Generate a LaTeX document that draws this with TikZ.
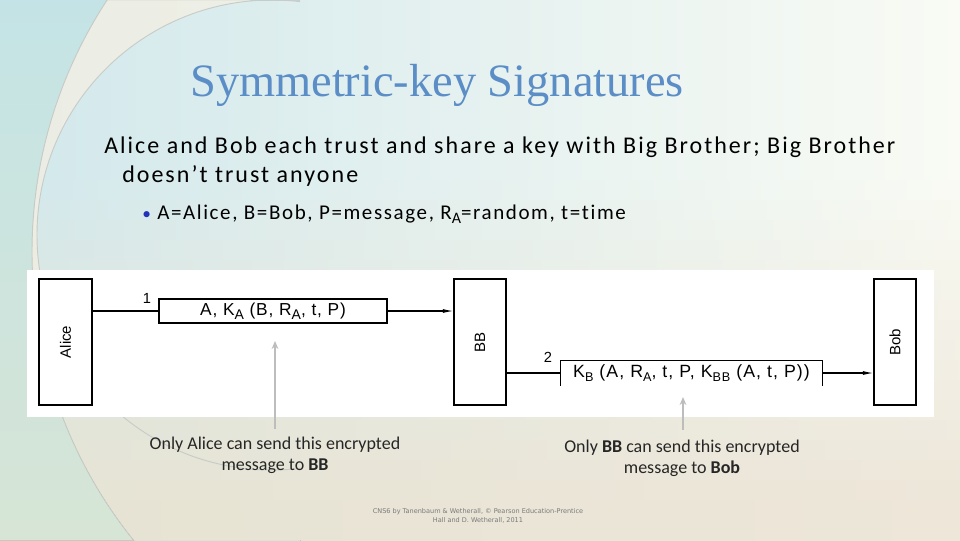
\documentclass[tikz,border=0pt]{standalone}
\usepackage{fontspec}
\setmainfont[Ligatures=NoCommon]{Carlito}
\newfontfamily\bodyfont[LetterSpace=8.4,Ligatures=NoCommon]{Carlito}
\newfontfamily\bulletfont[LetterSpace=7.7,Ligatures=NoCommon]{Carlito}
\newfontfamily\titlefont{Liberation Serif}
\newfontfamily\arialfont[LetterSpace=5]{Liberation Sans}
\newfontfamily\arialwide[LetterSpace=6]{Liberation Sans}
\newfontfamily\arialplain{Liberation Sans}
\newfontfamily\footfont{DejaVu Sans}
\usetikzlibrary{arrows.meta}
\definecolor{titleblue}{HTML}{5B8DC6}
\definecolor{bulletblue}{HTML}{2233BB}
\definecolor{tl}{HTML}{D2E8EC}
\definecolor{tr}{HTML}{F9FBF4}
\definecolor{bl}{HTML}{E6E3D3}
\definecolor{br}{HTML}{EDE6D9}
\definecolor{leftcyan}{HTML}{BDE3EC}
\definecolor{leftgreen}{HTML}{DCE5D0}
\definecolor{cream}{HTML}{F4EFE2}
\definecolor{arcline}{HTML}{C8CCC8}
\definecolor{pointer}{HTML}{BDBDBD}
\definecolor{foot}{HTML}{7A7A7A}
\newcommand\dsub[2]{\raisebox{-3pt}{\fontsize{#2}{#2}\selectfont #1}}
\tikzset{
  entity/.style={draw=black, line width=0.8pt, minimum height=94.5pt, inner sep=0pt},
  msgbox/.style={line width=0.8pt, minimum height=18pt, inner sep=0pt, font=\arialfont\fontsize{13pt}{13pt}\selectfont},
  ename/.style={font=\arialplain\fontsize{11.25pt}{11.25pt}\selectfont, rotate=90},
  stepnum/.style={font=\arialplain\fontsize{11pt}{11pt}\selectfont, inner sep=0pt},
  flow/.style={line width=0.8pt, -{Latex[length=8pt,width=3pt]}},
  plain/.style={line width=0.8pt},
  pointerarrow/.style={draw=pointer, line width=1.3pt, -{Stealth[length=6pt,width=5pt]}},
  note/.style={font=\fontsize{13.5pt}{15.75pt}\selectfont, align=center, inner sep=0pt, anchor=north, text=black!85},
}
\begin{document}
\begin{tikzpicture}[x=0.75pt,y=-0.75pt]
\useasboundingbox (0,0) rectangle (960,540);
% background: stacked horizontal gradients
\foreach \i in {0,...,26}{
  \pgfmathsetmacro\p{max(0,min(100,100-(20*\i-170)/3.2))}
  \colorlet{sl}{tl!\p!bl}
  \colorlet{sr}{tr!\p!br}
  \fill[left color=sl, right color=sr] (0,20*\i) rectangle (960,20*\i+21);
}
\begin{scope}
  \clip (0,0) rectangle (300,540);
  \fill[even odd rule, top color=leftcyan, bottom color=leftgreen] (0,0) rectangle (960,540) (492,252) circle (460);
\end{scope}
\begin{scope}
  \clip (0,0) rectangle (250,270);
  \fill[cream, even odd rule, fill opacity=0.75] (492,252) circle (460) (272,235) circle (235);
\end{scope}
\begin{scope}
  \clip (0,0) rectangle (300,540);
  \draw[arcline, line width=0.7pt] (492,252) circle (460);
  \draw[arcline, line width=0.7pt] (272,235) circle (235);
\end{scope}
% title and bullets
\node[anchor=base, text=titleblue, font=\titlefont\fontsize{34.8pt}{34.8pt}\selectfont, inner sep=0pt] (title) at (437,96) {Symmetric-key Signatures};
\node[anchor=base west, inner sep=0pt, font=\bodyfont\fontsize{18pt}{18pt}\selectfont] (line1) at (104,153) {Alice and Bob each trust and share a key with Big Brother; Big Brother};
\node[anchor=base west, inner sep=0pt, font=\bodyfont\fontsize{18pt}{18pt}\selectfont] (line2) at (122,182) {doesn’t trust anyone};
\node[anchor=base west, inner sep=0pt, text=bulletblue, font=\fontsize{13pt}{13pt}\selectfont] (bul) at (142,219) {•};
\node[anchor=base west, inner sep=0pt, font=\bulletfont\fontsize{15.75pt}{15.75pt}\selectfont] (sub) at (157,219) {A=Alice, B=Bob, P=message, R\dsub{A}{12pt}=random, t=time};
% diagram panel
\fill[white] (27,270) rectangle (934,417);
\node[entity, minimum width=39.75pt] (alice) at (65.5,342) {};
\node[ename] at (alice.center) {Alice};
\node[entity, minimum width=39pt] (bb) at (480,342) {};
\node[ename] at (bb.center) {BB};
\node[entity, minimum width=31.5pt] (bob) at (895,342) {};
\node[ename] at (bob.center) {Bob};
\node[msgbox, draw, minimum width=171pt] (m1) at (273,311) {A, K\dsub{A}{10.5pt} (B, R\dsub{A}{10.5pt}, t, P)};
\node[msgbox, minimum width=195.75pt, font=\arialwide\fontsize{13.3pt}{13.3pt}\selectfont] (m2) at (691.5,373) {K\dsub{B}{9.5pt} (A, R\dsub{A}{9.5pt}, t, P, K\dsub{BB}{9.5pt} (A, t, P))};
\draw[plain] (m2.south west) |- (m2.north east) -- (m2.south east);
\draw[plain] (alice.east |- m1.west) -- (m1.west);
\draw[flow] (m1.east) -- (bb.west |- m1.east);
\draw[plain] (bb.east |- m2.west) -- (m2.west);
\draw[flow] (m2.east) -- (bob.west |- m2.east);
\node[stepnum, anchor=base] (n1) at (147,303) {1};
\node[stepnum, anchor=base] (n2) at (548,362) {2};
% notes
\node[note] (note1) at (275,436.5) {Only Alice can send this encrypted\\message to \textbf{BB}};
\node[note] (note2) at (682,439.5) {Only \textbf{BB} can send this encrypted\\message to \textbf{Bob}};
\coordinate (p1a) at (275,429);
\coordinate (p1b) at (275,341);
\coordinate (p2a) at (683,430);
\coordinate (p2b) at (683,397);
\draw[pointerarrow] (p1a) -- (p1b);
\draw[pointerarrow] (p2a) -- (p2b);
% footer
\node[text=foot, font=\footfont\fontsize{4.9pt}{7pt}\selectfont, align=center, inner sep=0pt] (footer) at (478,516) {CNS6 by Tanenbaum \& Wetherall, © Pearson Education-Prentice\\Hall and D. Wetherall, 2011};
\end{tikzpicture}
\end{document}
